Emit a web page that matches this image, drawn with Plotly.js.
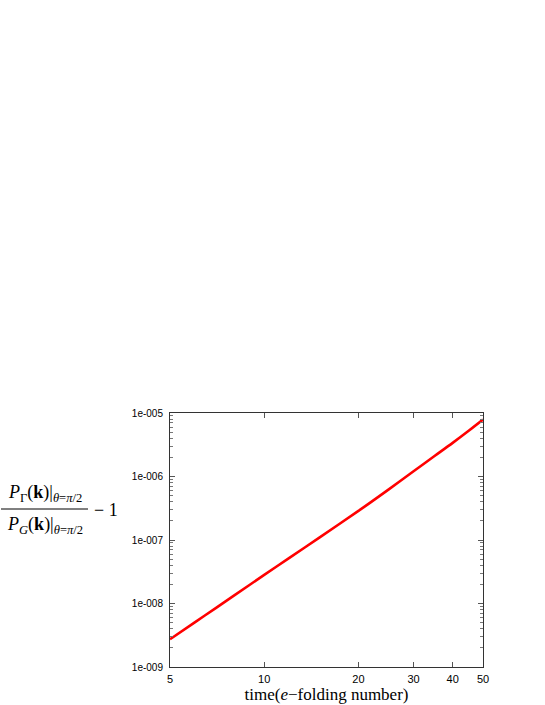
<!DOCTYPE html>
<html>
<head>
<meta charset="utf-8">
<script src="https://cdn.plot.ly/plotly-3.0.1.min.js"></script>
<style>
html,body{margin:0;padding:0;background:#fff;}
#chart{width:545px;height:705px;}
</style>
</head>
<body>
<div id="chart"></div>
<script>
// Data (time in e-folding number vs relative deviation)
var timeValues = [5, 6, 7, 8, 10, 12, 15, 20, 25, 30, 35, 40, 45, 50];
var ratioValues = [2.73e-9, 5.04e-9, 8.47e-9, 1.33e-8, 2.82e-8, 5.18e-8, 1.09e-7, 2.87e-7, 6.27e-7, 1.21e-6, 2.10e-6, 3.38e-6, 5.24e-6, 7.87e-6];

var xTickVals = [5, 10, 20, 30, 40, 50];
var xTickText = ['5', '10', '20', '30', '40', '50'];
var yTickVals = [1e-9, 1e-8, 1e-7, 1e-6, 1e-5];
var yTickText = ['1e-009', '1e-008', '1e-007', '1e-006', '1e-005'];
var yMinorVals = [];
[-9, -8, -7, -6].forEach(function (e) {
  for (var m = 2; m <= 9; m++) yMinorVals.push(m * Math.pow(10, e));
});

var trace = {
  x: timeValues,
  y: ratioValues,
  type: 'scatter',
  mode: 'lines',
  line: {color: '#ff0000', width: 2.6, shape: 'spline', smoothing: 0.8},
  hoverinfo: 'skip'
};

var serif = 'Liberation Serif, DejaVu Serif, serif';

var layout = {
  width: 545,
  height: 705,
  margin: {l: 170, r: 62, t: 413, b: 38},
  paper_bgcolor: '#ffffff',
  plot_bgcolor: '#ffffff',
  showlegend: false,
  xaxis: {
    type: 'log',
    range: [Math.log10(5), Math.log10(50)],
    tickvals: xTickVals,
    ticktext: xTickText,
    ticks: 'inside',
    ticklen: 5,
    tickcolor: '#555',
    mirror: 'allticks',
    showline: true,
    linecolor: '#333',
    linewidth: 1,
    showgrid: false,
    zeroline: false,
    tickfont: {family: 'Liberation Sans, Arial, sans-serif', size: 11, color: '#000'},
    ticklabelstandoff: 2,
    title: {
      text: 'time(<i>e</i>\u2212folding number)',
      font: {family: serif, size: 17, color: '#000'},
      standoff: 2
    }
  },
  yaxis: {
    type: 'log',
    range: [-9, -5],
    tickvals: yTickVals,
    ticktext: yTickText,
    ticks: 'inside',
    ticklen: 5,
    tickcolor: '#555',
    mirror: 'allticks',
    showline: true,
    linecolor: '#333',
    linewidth: 1,
    showgrid: false,
    zeroline: false,
    tickfont: {family: 'Liberation Sans, Arial, sans-serif', size: 10, color: '#000'},
    ticklabelstandoff: 4,
    minor: {tickvals: yMinorVals, ticks: 'inside', ticklen: 3, tickcolor: '#777', showgrid: false}
  },
  shapes: [
    {type: 'line', xref: 'paper', yref: 'paper',
     x0: -169 / 313, x1: -82 / 313, y0: (667 - 509) / 254, y1: (667 - 509) / 254,
     line: {color: '#000', width: 1}}
  ],
  annotations: [
    {xref: 'paper', yref: 'paper', x: -125 / 313, y: (667 - 493) / 254,
     xanchor: 'center', yanchor: 'middle', showarrow: false,
     text: '<i>P</i><sub>\u0393</sub>(<b>k</b>)|<sub><i>\u03b8</i>=<i>\u03c0</i>/2</sub>',
     font: {family: serif, size: 18, color: '#000'}},
    {xref: 'paper', yref: 'paper', x: -125 / 313, y: (667 - 525) / 254,
     xanchor: 'center', yanchor: 'middle', showarrow: false,
     text: '<i>P</i><sub><i>G</i></sub>(<b>k</b>)|<sub><i>\u03b8</i>=<i>\u03c0</i>/2</sub>',
     font: {family: serif, size: 18, color: '#000'}},
    {xref: 'paper', yref: 'paper', x: -78 / 313, y: (667 - 510) / 254,
     xanchor: 'left', yanchor: 'middle', showarrow: false,
     text: '\u2212 1',
     font: {family: serif, size: 18, color: '#000'}}
  ]
};

Plotly.newPlot('chart', [trace], layout, {staticPlot: true, displayModeBar: false});
</script>
</body>
</html>
